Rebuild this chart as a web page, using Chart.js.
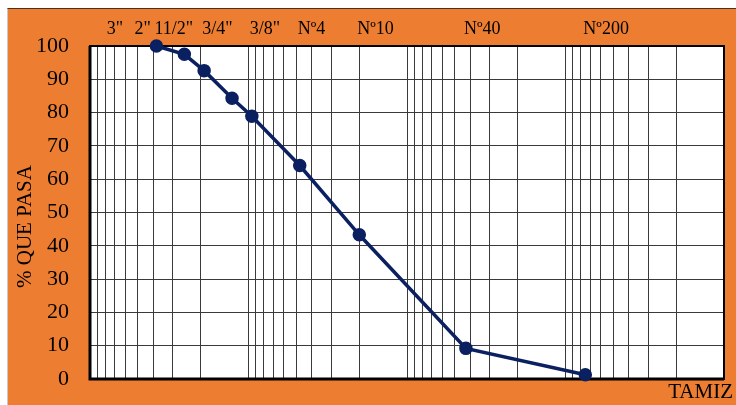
<!DOCTYPE html>
<html lang="es">

<head>
  <meta charset="UTF-8">
  <title>Curva granulométrica</title>
  <script src="https://cdn.jsdelivr.net/npm/chart.js"></script>
  <style>
    html, body { margin: 0; padding: 0; background: #fff; }
    #frame {
      position: absolute;
      left: 7px;
      top: 8px;
      width: 728px;
      height: 396px;
      background: #ed7d31;
      border-top: 1px solid #4a3020;
      border-left: 1px solid #c8c8c8;
    }
  </style>
</head>

<body>
  <div id="frame">
    <canvas id="granuloChart"></canvas>
  </div>

  <script>
    // abertura de tamices (mm) y etiquetas del eje superior
    const sieveSizes = [76.2, 50.8, 38.1, 19.05, 9.525, 4.75, 2.0, 0.425, 0.075];
    const sieveLabels = ['3"', '2"', '11/2"', '3/4"', '3/8"', 'Nº4', 'Nº10', 'Nº40', 'Nº200'];

    // ensayo: tamaño (mm) y % que pasa
    const sampleSizes = [38.1, 25.4, 19.05, 12.7, 9.525, 4.75, 2.0, 0.425, 0.075];
    const percentPassing = [100, 97.5, 92.6, 84.3, 78.9, 64.1, 43.3, 9.2, 1.3];

    const yTicks = [0, 10, 20, 30, 40, 50, 60, 70, 80, 90, 100];

    // lineas verticales del papel logaritmico (1..9 por decada)
    const gridTicks = [100];
    [10, 1, 0.1, 0.01].forEach(dec => {
      for (let k = 9; k >= 1; k--) gridTicks.push(+(k * dec).toPrecision(3));
    });

    const serif = '"Liberation Serif", "Times New Roman", serif';
    const navy = '#0a2060';
    const gridColor = '#3a3a3a';

    const framePlugin = {
      id: 'frame',
      beforeDraw(chart) {
        const { ctx, chartArea: a } = chart;
        ctx.save();
        ctx.fillStyle = '#fff';
        ctx.fillRect(a.left, a.top, a.right - a.left, a.bottom - a.top);
        ctx.restore();
      },
      beforeDatasetsDraw(chart) {
        const { ctx, chartArea: a } = chart;
        ctx.save();
        ctx.strokeStyle = '#000';
        ctx.lineWidth = 2;
        ctx.strokeRect(a.left, a.top, a.right - a.left, a.bottom - a.top);
        ctx.lineWidth = 3;
        ctx.beginPath();
        ctx.moveTo(a.left, a.top);
        ctx.lineTo(a.left, a.bottom);
        ctx.lineTo(a.right, a.bottom);
        ctx.stroke();
        ctx.restore();
      },
      afterDraw(chart) {
        const { ctx, chartArea: a } = chart;
        ctx.save();
        ctx.fillStyle = '#000';
        ctx.font = '21px ' + serif;
        ctx.textBaseline = 'middle';

        // eje Y
        ctx.save();
        ctx.translate(17.5, (a.top + a.bottom) / 2 + 14);
        ctx.rotate(-Math.PI / 2);
        ctx.textAlign = 'center';
        ctx.fillText('% QUE PASA', 0, 0);
        ctx.restore();

        // eje X
        ctx.textAlign = 'right';
        ctx.fillText('TAMIZ', a.right + 9, a.bottom + 13);
        ctx.restore();
      }
    };

    new Chart(document.getElementById('granuloChart'), {
      type: 'line',
      data: {
        datasets: [{
          data: sampleSizes.map((s, i) => ({ x: s, y: percentPassing[i] })),
          borderColor: navy,
          backgroundColor: navy,
          borderWidth: 3.5,
          pointRadius: 6,
          pointBorderWidth: 1.5,
          pointHoverRadius: 6,
          tension: 0,
          clip: false
        }]
      },
      options: {
        responsive: true,
        maintainAspectRatio: false,
        animation: false,
        layout: { padding: { left: 0, right: 12, top: 0, bottom: 0 } },
        plugins: {
          legend: { display: false },
          tooltip: { enabled: false }
        },
        scales: {
          x: {
            type: 'logarithmic',
            position: 'bottom',
            min: 0.01,
            max: 100,
            reverse: true,
            afterBuildTicks: scale => { scale.ticks = gridTicks.map(v => ({ value: v })); },
            afterFit: scale => { scale.height = 26; },
            ticks: { display: false },
            grid: { color: gridColor, lineWidth: 1, drawTicks: false },
            border: { display: false }
          },
          xTop: {
            type: 'logarithmic',
            position: 'top',
            min: 0.01,
            max: 100,
            reverse: true,
            afterBuildTicks: scale => { scale.ticks = sieveSizes.map(v => ({ value: v })); },
            afterFit: scale => { scale.height = 37; },
            ticks: {
              autoSkip: false,
              maxRotation: 0,
              align: 'start',
              labelOffset: -2,
              padding: 6,
              color: '#000',
              font: { family: serif, size: 18 },
              callback: (value, index) => sieveLabels[index]
            },
            grid: { display: false, drawTicks: false },
            border: { display: false }
          },
          y: {
            min: 0,
            max: 100,
            afterBuildTicks: scale => { scale.ticks = yTicks.map(v => ({ value: v })); },
            afterFit: scale => {
              scale.width = 82;
              scale.paddingTop = 0;
              scale.paddingBottom = 0;
            },
            ticks: {
              padding: 21,
              color: '#000',
              font: { family: serif, size: 22 }
            },
            grid: { color: gridColor, lineWidth: 1, drawTicks: false },
            border: { display: false }
          }
        }
      },
      plugins: [framePlugin]
    });
  </script>
</body>

</html>
